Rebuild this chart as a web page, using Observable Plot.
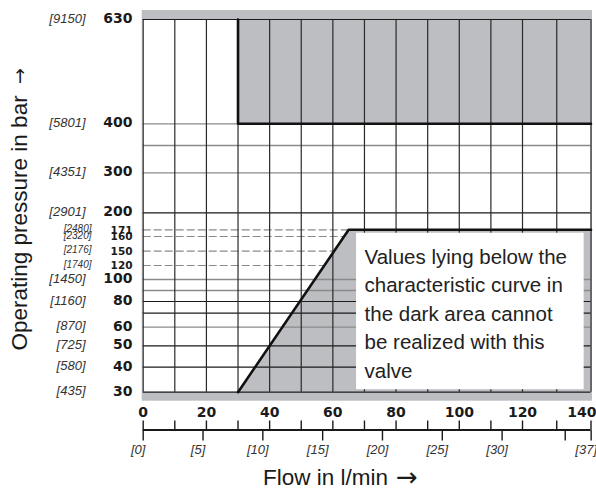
<!DOCTYPE html>
<html>
<head>
<meta charset="utf-8">
<script src="https://cdn.jsdelivr.net/npm/d3@7"></script>
<script src="https://cdn.jsdelivr.net/npm/@observablehq/plot@0.6"></script>
<style>
  html, body { margin: 0; padding: 0; background: #ffffff; }
  #chart svg { display: block; }
</style>
</head>
<body>
<div id="chart"></div>
<script>
// ---- data ----
const barLabels = [630, 400, 300, 200, 100, 80, 60, 50, 40, 30];
const psiLabels = ["[9150]", "[5801]", "[4351]", "[2901]", "[1450]", "[1160]", "[870]", "[725]", "[580]", "[435]"];
const barLabelsSmall = [171, 160, 150, 120];
const psiLabelsSmall = ["[2480]", "[2320]", "[2176]", "[1740]"];
const blackGrid = [200, 80, 70, 50, 40];
const grayGrid = [400, 350, 300, 100, 90, 60];
const dashedGrid = [171, 160, 150, 120];
const pressureEdges = [30, 630];
const flowGrid = [0, 10, 20, 30, 40, 50, 60, 70, 80, 90, 100, 110, 120, 130, 140];
const flowLabels = [0, 20, 40, 60, 80, 100, 120];
const flowLabelLast = [140];
const gpmTicks = [0, 5, 10, 15, 20, 25, 30, 35, 37];
const gpmLabels = ["[0]", "[5]", "[10]", "[15]", "[20]", "[25]", "[30]", "", "[37]"];
const LPM_PER_GPM = 3.785;
const limitFlow = [30, 30, 140];
const limitPressure = [630, 400, 400];
const curveFlow = [30, 65, 140];
const curvePressure = [30, 171, 171];
const noteLines = ["Values lying below the", "characteristic curve in", "the dark area cannot", "be realized with this", "valve"];
const noteFlow = [67.5, 138];
const notePressure = [31, 165.4];
const xTitle = "Flow in l/min";
const arrow = "\u2192";
const yTitle = "Operating pressure in bar";

// ---- the chart's (hand-drawn, non-uniform) axis graduations ----
const pressureStops = [30, 40, 50, 60, 70, 80, 90, 100, 120, 150, 160, 171, 200, 300, 350, 400, 630];
const pressureStopPos = [0, 25, 46.4, 65, 79, 90.7, 101.7, 112.7, 126.7, 141, 155.7, 162.4, 179.4, 219.4, 246.7, 268.4, 372.7];
const flowStops = [0, 120, 140];
const flowStopPos = [0, 379.3, 447.8];
const pressureWarp = d3.scaleLinear(pressureStops, pressureStopPos);
const flowWarp = d3.scaleLinear(flowStops, flowStopPos);

// ---- derived tables ----
const limitLine = limitFlow.map((f, i) => ({flow: f, p: limitPressure[i]}));
const curve = curveFlow.map((f, i) => ({flow: f, p: curvePressure[i]}));
const bigLabels = barLabels.map((b, i) => ({p: b, bar: String(b), psi: psiLabels[i]}));
const smallLabels = barLabelsSmall.map((b, i) => ({p: b, bar: String(b), psi: psiLabelsSmall[i]}));
const gpm = gpmTicks.map((g, i) => ({flow: g * LPM_PER_GPM, label: gpmLabels[i]}));

const GRAY = "#bdbec2";
const NUM_FONT = "DejaVu Sans";
const SANS = "Liberation Sans, Arial, Helvetica, sans-serif";
const numStyle = {fontFamily: NUM_FONT, fontWeight: "bold", fontSize: 14, fill: "#1a1a1a"};

const chart = Plot.plot({
  width: 596,
  height: 491,
  marginLeft: 143,
  marginRight: 6,
  marginTop: 19,
  marginBottom: 99,
  style: {background: "#ffffff", fontFamily: SANS, color: "#1a1a1a"},
  x: {transform: flowWarp, domain: [0, 447.8], range: [142.7, 590.5], axis: null},
  y: {transform: pressureWarp, domain: [0, 372.7], range: [391.7, 19], axis: null},
  marks: [
    // gray surround
    Plot.rect([0], {x1: 0, x2: 140, y1: 30, y2: 630, fill: GRAY, insetTop: -9, insetBottom: -9, insetLeft: -1, insetRight: -1.5}),
    // white plotting field
    Plot.rect([0], {x1: 0, x2: 140, y1: 30, y2: 630, fill: "#ffffff"}),
    // dashed guide lines (only visible in the white area)
    Plot.ruleY(dashedGrid, {x1: 0, x2: 140, stroke: "#8a8a8a", strokeWidth: 1.2, strokeDasharray: "8,3"}),
    // dark (impossible) areas
    Plot.rect([0], {x1: 30, x2: 140, y1: 400, y2: 630, fill: GRAY}),
    Plot.areaY(curve, {x: "flow", y1: 30, y2: "p", fill: GRAY}),
    // grid
    Plot.ruleY(grayGrid, {x1: 0, x2: 140, stroke: "#8a8a8a", strokeWidth: 1.3}),
    Plot.ruleY(blackGrid, {x1: 0, x2: 140, stroke: "#1a1a1a", strokeWidth: 1.2}),
    Plot.ruleX(flowGrid, {y1: 30, y2: 630, stroke: "#2a2a2a", strokeWidth: 1.2}),
    Plot.ruleY(pressureEdges, {x1: 0, x2: 140, stroke: "#1a1a1a", strokeWidth: 1.2}),
    // limit and characteristic curve
    Plot.line(limitLine, {x: "flow", y: "p", stroke: "#111111", strokeWidth: 2.6}),
    Plot.line(curve, {x: "flow", y: "p", stroke: "#111111", strokeWidth: 2.6}),
    // note box
    Plot.rect([0], {x1: noteFlow[0], x2: noteFlow[1], y1: notePressure[0], y2: notePressure[1], fill: "#ffffff"}),
    Plot.text([noteLines.join("\n")], {
      x: noteFlow[0], y: notePressure[1], text: d => d,
      textAnchor: "start", lineAnchor: "top", dx: 8, dy: 10,
      fontSize: 20.5, lineHeight: 1.395, fill: "#222222", fontFamily: SANS
    }),
    // y labels: bar (bold) and psi (italic)
    Plot.text(bigLabels, {y: "p", text: "bar", frameAnchor: "left", textAnchor: "end", lineAnchor: "middle", dx: -11, dy: -1, ...numStyle}),
    Plot.text(smallLabels, {y: "p", text: "bar", frameAnchor: "left", textAnchor: "end", lineAnchor: "middle", dx: -11, dy: 0.5,
      ...numStyle, fontSize: 10.5}),
    Plot.text(bigLabels, {y: "p", text: "psi", frameAnchor: "left", textAnchor: "end", lineAnchor: "middle", dx: -58, dy: -1,
      fontFamily: SANS, fontStyle: "italic", fontSize: 13, fill: "#333333"}),
    Plot.text(smallLabels, {y: "p", text: "psi", frameAnchor: "left", textAnchor: "end", lineAnchor: "middle", dx: -52, dy: -1,
      fontFamily: SANS, fontStyle: "italic", fontSize: 10, fill: "#333333"}),
    // x axis: line, ticks, labels
    Plot.ruleY([30], {x1: 0, x2: 140, dy: 37.8, stroke: "#1a1a1a", strokeWidth: 2}),
    Plot.axisX(flowGrid, {tickSize: 9, dy: 28.5, fill: "none", stroke: "#1a1a1a", strokeWidth: 1.4, label: null}),
    Plot.axisX(gpm.map(d => d.flow), {tickSize: 11, dy: 37.5, fill: "none", stroke: "#1a1a1a", strokeWidth: 1.4, label: null}),
    Plot.text(flowLabels, {x: d => d, text: d => String(d), frameAnchor: "bottom", textAnchor: "middle", lineAnchor: "middle", dy: 20, ...numStyle}),
    Plot.text(flowLabelLast, {x: d => d, text: d => String(d), frameAnchor: "bottom", textAnchor: "end", lineAnchor: "middle", dy: 20, dx: 5.5, ...numStyle}),
    Plot.text(gpm, {x: "flow", text: "label", frameAnchor: "bottom", textAnchor: "middle", lineAnchor: "middle", dy: 57, dx: -5,
      fontFamily: SANS, fontStyle: "italic", fontSize: 13, fill: "#333333"}),
    // axis titles
    Plot.text([xTitle], {text: d => d, frameAnchor: "bottom", textAnchor: "end", lineAnchor: "middle", dx: 21, dy: 85,
      fontSize: 22.5, fill: "#1a1a1a", fontFamily: SANS}),
    Plot.text([arrow], {text: d => d, frameAnchor: "bottom", textAnchor: "start", lineAnchor: "middle", dx: 29, dy: 85,
      fontSize: 26, fill: "#1a1a1a", fontFamily: "DejaVu Sans"}),
    Plot.text([yTitle], {text: d => d, frameAnchor: "left", textAnchor: "start", lineAnchor: "middle", rotate: -90, dx: -124, dy: 144.5,
      fontSize: 22.5, fill: "#1a1a1a", fontFamily: SANS}),
    Plot.text([arrow], {text: d => d, frameAnchor: "left", textAnchor: "end", lineAnchor: "middle", rotate: -90, dx: -124, dy: -138,
      fontSize: 19, fill: "#1a1a1a", fontFamily: "DejaVu Sans"})
  ]
});
document.getElementById("chart").appendChild(chart);
</script>
</body>
</html>
